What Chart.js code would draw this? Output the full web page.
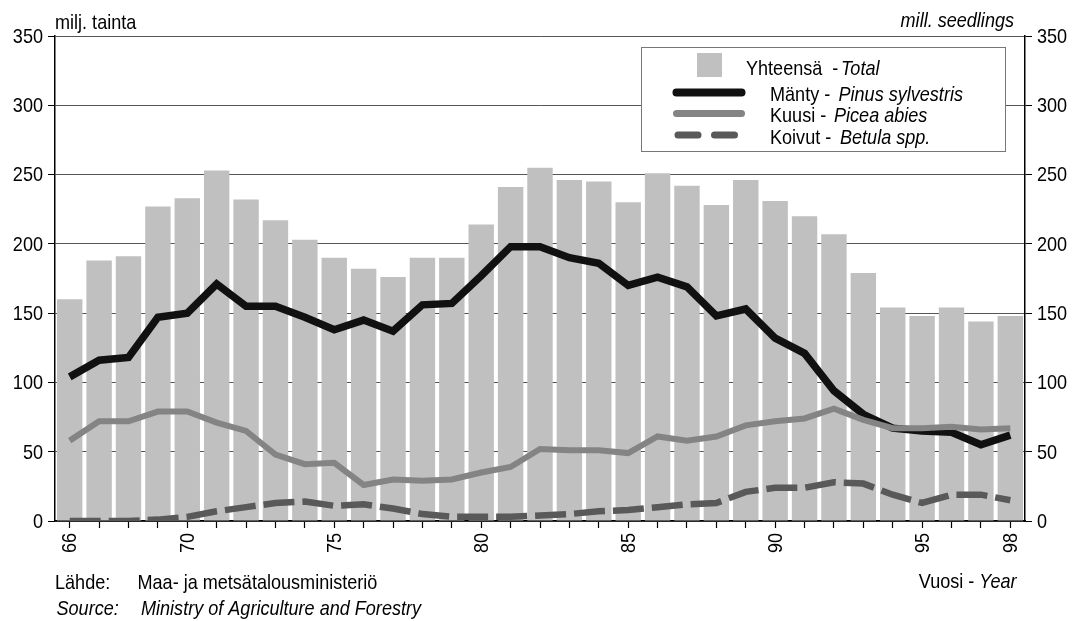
<!DOCTYPE html>
<html>
<head>
<meta charset="utf-8">
<script src="https://cdn.jsdelivr.net/npm/chart.js@4/dist/chart.umd.min.js"></script>
<style>
html,body{margin:0;padding:0;background:#fff;}
canvas{display:block;}
</style>
</head>
<body>
<canvas id="c" width="1075" height="621"></canvas>
<script>
const years = ['66','67','68','69','70','71','72','73','74','75','76','77','78','79','80','81','82','83','84','85','86','87','88','89','90','91','92','93','94','95','96','97','98'];
const shownYears = ['66','70','75','80','85','90','95','98'];
const total = [160,188,191,227,233,253,232,217,203,190,182,176,190,190,214,241,255,246,245,230,251,242,228,246,231,220,207,179,154,148,154,144,148];
const pine = [104,116,118,147,150,171,155,155,147,138,145,137,156,157,177,198,198,190,186,170,176,169,148,153,132,121,94,77,67,65,64,55,62];
const spruce = [58,72,72,79,79,71,65,48,41,42,26,30,29,30,35,39,52,51,51,49,61,58,61,69,72,74,81,73,67,67,68,66,67];
const birch = [0,0,0,1,3,7,10,13,14,11,12,9,5,3,3,3,4,5,7,8,10,12,13,21,24,24,28,27,19,13,19,19,15];
const yTicks = [0,50,100,150,200,250,300,350];

const FONT = "'Liberation Sans',Arial,sans-serif";
const NARROW = 0.86;
const FS = 21;
const C_BAR = '#c0c0c0', C_PINE = '#111111', C_SPRUCE = '#848484', C_BIRCH = '#595959';

function setFont(ctx, italic, size) {
  ctx.font = (italic ? 'italic ' : '') + (size || FS) + 'px ' + FONT;
}
function textW(ctx, t, italic, size) {
  setFont(ctx, italic, size);
  return ctx.measureText(t).width * NARROW;
}
function narrow(ctx, x, y, parts, align, size, rot) {
  let tw = 0;
  for (const [t, it] of parts) tw += textW(ctx, t, it, size);
  ctx.save();
  ctx.translate(x, y);
  if (rot) ctx.rotate(rot);
  let cx = align === 'right' ? -tw : align === 'center' ? -tw / 2 : 0;
  ctx.textAlign = 'left';
  for (const [t, it] of parts) {
    setFont(ctx, it, size);
    ctx.save();
    ctx.translate(cx, 0);
    ctx.scale(NARROW, 1);
    ctx.fillText(t, 0, 0);
    ctx.restore();
    cx += textW(ctx, t, it, size);
  }
  ctx.restore();
}

const overlay = {
  id: 'overlay',
  afterDraw(chart) {
    const ctx = chart.ctx;
    ctx.save();
    ctx.fillStyle = '#000';
    ctx.textBaseline = 'middle';
    const sy = chart.scales.y, sy2 = chart.scales.y2, sx = chart.scales.x;
    sy.ticks.forEach(t => narrow(ctx, sy.right - 12, sy.getPixelForValue(t.value) + 1, [[String(t.value), false]], 'right'));
    sy2.ticks.forEach(t => narrow(ctx, sy2.left + 12, sy2.getPixelForValue(t.value) + 1, [[String(t.value), false]], 'left'));
    sx.ticks.forEach((t, i) => {
      const lab = years[i];
      if (!shownYears.includes(lab)) return;
      narrow(ctx, sx.getPixelForTick(i) + 1, sx.top + 12, [[lab, false]], 'right', FS, -Math.PI / 2);
    });
    ctx.textBaseline = 'alphabetic';
    narrow(ctx, 55, 29, [['milj. tainta', false]], 'left');
    narrow(ctx, 1014, 27, [['mill. seedlings', true]], 'right');
    // legend
    ctx.fillStyle = '#fff';
    ctx.fillRect(641, 47, 365, 105);
    ctx.strokeStyle = '#777';
    ctx.lineWidth = 1;
    ctx.strokeRect(641.5, 47.5, 364, 104);
    ctx.fillStyle = C_BAR;
    ctx.fillRect(697, 53, 25, 24);
    ctx.lineCap = 'round';
    ctx.lineWidth = 8;
    ctx.strokeStyle = C_PINE;
    ctx.beginPath(); ctx.moveTo(676.5, 92.5); ctx.lineTo(741.5, 92.5); ctx.stroke();
    ctx.strokeStyle = C_SPRUCE;
    ctx.lineWidth = 7;
    ctx.beginPath(); ctx.moveTo(676.5, 113.5); ctx.lineTo(741.5, 113.5); ctx.stroke();
    ctx.strokeStyle = C_BIRCH;
    ctx.beginPath(); ctx.moveTo(678, 135); ctx.lineTo(698, 135); ctx.stroke();
    ctx.beginPath(); ctx.moveTo(714.5, 135); ctx.lineTo(734.5, 135); ctx.stroke();
    ctx.fillStyle = '#000';
    narrow(ctx, 746, 75, [['Yhteensä  -', false]], 'left');
    narrow(ctx, 841, 75, [['Total', true]], 'left');
    narrow(ctx, 770, 101, [['Mänty - ', false]], 'left');
    narrow(ctx, 838.5, 101, [['Pinus sylvestris', true]], 'left');
    narrow(ctx, 770, 122, [['Kuusi - ', false]], 'left');
    narrow(ctx, 834, 122, [['Picea abies', true]], 'left');
    narrow(ctx, 770, 144, [['Koivut - ', false]], 'left');
    narrow(ctx, 840, 144, [['Betula spp.', true]], 'left');
    // source & year
    narrow(ctx, 55, 589, [['Lähde:', false]], 'left');
    narrow(ctx, 137.5, 589, [['Maa- ja metsätalousministeriö', false]], 'left');
    narrow(ctx, 56.5, 615, [['Source:', true]], 'left');
    narrow(ctx, 141, 615, [['Ministry of Agriculture and Forestry', true]], 'left');
    narrow(ctx, 1016.5, 588, [['Vuosi - ', false], ['Year', true]], 'right');
    ctx.restore();
  }
};

new Chart(document.getElementById('c'), {
  type: 'bar',
  data: {
    labels: years,
    datasets: [
      { type: 'line', label: 'Kuusi', data: spruce, borderColor: C_SPRUCE, borderWidth: 6, pointRadius: 0, tension: 0, order: 1, yAxisID: 'y' },
      { type: 'line', label: 'Mänty', data: pine, borderColor: C_PINE, borderWidth: 7.5, pointRadius: 0, tension: 0, order: 2, yAxisID: 'y' },
      { type: 'line', label: 'Koivut', data: birch, borderColor: C_BIRCH, borderWidth: 6.5, borderDash: [31, 8], pointRadius: 0, tension: 0, order: 3, yAxisID: 'y' },
      { type: 'bar', label: 'Yhteensä', data: total, backgroundColor: C_BAR, barPercentage: 0.865, categoryPercentage: 1, order: 4, yAxisID: 'y' }
    ]
  },
  options: {
    responsive: false,
    devicePixelRatio: 1,
    animation: false,
    layout: { padding: { top: 36, left: 0, right: 0, bottom: 0 } },
    plugins: { legend: { display: false }, tooltip: { enabled: false } },
    scales: {
      x: {
        offset: true,
        grid: { drawOnChartArea: false, offset: false, tickLength: 7, tickColor: '#000', tickWidth: 1.2 },
        border: { color: '#000', width: 1.5 },
        ticks: { display: false, autoSkip: false },
        afterFit(s) { s.height = 100; }
      },
      y: {
        position: 'left', min: 0, max: 350,
        afterBuildTicks(s) { s.ticks = yTicks.map(v => ({ value: v })); },
        ticks: { display: false },
        grid: { color: '#555', lineWidth: 1, tickLength: 7, tickColor: '#000' },
        border: { color: '#000', width: 1.5 },
        afterFit(s) { s.width = 55; }
      },
      y2: {
        position: 'right', min: 0, max: 350,
        afterBuildTicks(s) { s.ticks = yTicks.map(v => ({ value: v })); },
        ticks: { display: false },
        grid: { drawOnChartArea: false, tickLength: 7, tickColor: '#000' },
        border: { color: '#000', width: 1.5 },
        afterFit(s) { s.width = 50; }
      }
    }
  },
  plugins: [overlay]
});
</script>
</body>
</html>
